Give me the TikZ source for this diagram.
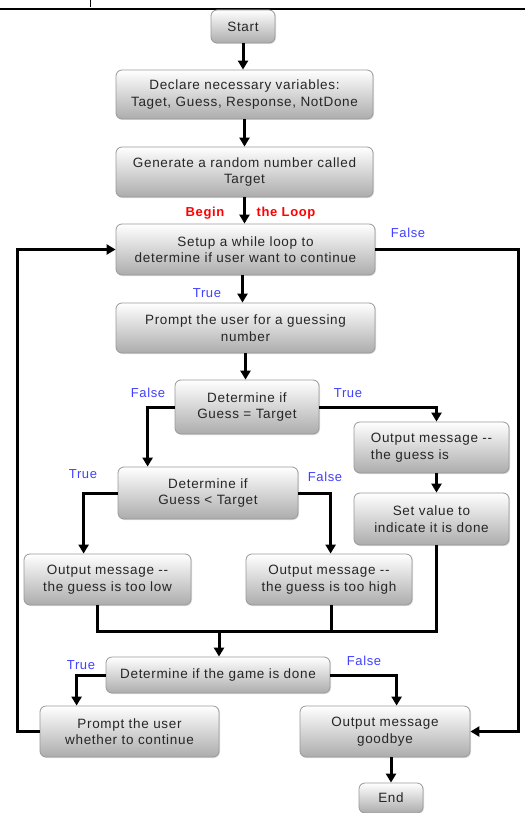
\documentclass[tikz,border=0pt]{standalone}
\usepackage{fontspec}
\setmainfont{Liberation Sans}[LetterSpace=5]
\usetikzlibrary{calc,arrows.meta,shadows}
\tikzset{
  box/.style={draw=gray!80, rounded corners=6pt, top color=white, bottom color=gray!65,
    inner sep=0pt, align=center, font=\fontsize{13.5}{16.5}\selectfont, text=black!85,
    line width=0.8pt, drop shadow={shadow xshift=1pt, shadow yshift=-1pt, opacity=0.25}},
  arr/.style={line width=3pt, -{Triangle[length=9pt,width=10pt]}},
  ln/.style={line width=3pt},
  lab/.style={text=blue!75!white, font=\fontsize{13}{15}\selectfont, inner sep=0pt},
  redlab/.style={text=red, font=\bfseries\fontsize{13}{15}\selectfont, inner sep=0pt},
}
\begin{document}
\begin{tikzpicture}[x=1pt,y=-1pt]
\useasboundingbox (0,0) rectangle (525,813);
\fill[white] (0,0) rectangle (525,813);
% top rule of the page
\draw[line width=2pt] (0,9) -- (525,9);
\draw[line width=1pt] (90,0) -- (90,7);

% boxes
\node[box, minimum width=64pt, minimum height=33pt] (start) at (243,26.5) {Start};
\node[box, minimum width=257pt, minimum height=49pt] (declare) at (244.5,94.5) {Declare necessary variables:\\Taget, Guess, Response, NotDone};
\node[box, minimum width=257pt, minimum height=50pt] (generate) at (244.5,172) {Generate a random number called\\Target};
\node[box, minimum width=259pt, minimum height=51pt] (setup) at (245.5,249.5) {Setup a while loop to\\determine if user want to continue};
\node[box, minimum width=259pt, minimum height=50pt] (prompt) at (245.5,328) {Prompt the user for a guessing\\number};
\node[box, minimum width=144pt, minimum height=54pt] (det1) at (247,407) {Determine if\\Guess = Target};
\node[box, minimum width=155pt, minimum height=51pt, align=left] (outg) at (431.5,447.5) {Output message -{}-\\the guess is};
\node[box, minimum width=155pt, minimum height=52pt] (setv) at (431.5,519) {Set value to\\indicate it is done};
\node[box, minimum width=180pt, minimum height=52pt] (det2) at (208,493) {Determine if\\Guess < Target};
\node[box, minimum width=167pt, minimum height=51pt] (low) at (107.5,579.5) {Output message -{}-\\the guess is too low};
\node[box, minimum width=166pt, minimum height=51pt] (high) at (329,579.5) {Output message -{}-\\the guess is too high};
\node[box, minimum width=224pt, minimum height=36pt] (game) at (218,675) {Determine if the game is done};
\node[box, minimum width=179pt, minimum height=51pt] (cont) at (129.5,731.5) {Prompt the user\\whether to continue};
\node[box, minimum width=170pt, minimum height=51pt] (bye) at (385,731.5) {Output message\\goodbye};
\node[box, minimum width=64pt, minimum height=30pt] (end) at (391,798) {End};

% labels
\node[redlab] (lbegin) at (205,213) {Begin};
\node[redlab] (lloop) at (286,213) {the Loop};
\node[lab] (f1) at (408,233) {False};
\node[lab] (t1) at (207,293) {True};
\node[lab] (f2) at (148,393) {False};
\node[lab] (t2) at (348,393) {True};
\node[lab] (t3) at (83,474) {True};
\node[lab] (f3) at (325,477) {False};
\node[lab] (t4) at (81,665) {True};
\node[lab] (f4) at (364,661) {False};

% helper coordinates
\coordinate (lft) at (17,250);
\coordinate (rgt) at (518,250);
\coordinate (m) at (219,631);
\coordinate (og) at ($(outg.north)+(5,0)$);
\coordinate (ogs) at ($(outg.south)+(5,0)$);
\coordinate (sv) at ($(setv.south)+(5,0)$);
\coordinate (lw) at ($(low.south west)+(74,0)$);
\coordinate (hs) at ($(high.south)+(2,0)$);

% connectors
\draw[arr] (start.south) -- (start.south |- declare.north);
\draw[arr] (declare.south) -- (generate.north);
\draw[arr] (generate.south) -- (generate.south |- setup.north);
\draw[arr] ($(setup.south)+(-3,0)$) -- ($(prompt.north)+(-3,0)$);
\draw[arr] (prompt.south) -- (prompt.south |- det1.north);
\draw[arr] (det1.west) -| ($(det2.north west)+(30,0)$);
\draw[arr] (det1.east) -| (og);
\draw[arr] (ogs) -- (ogs |- setv.north);
\draw[arr] (det2.west) -| ($(low.north west)+(60,0)$);
\draw[arr] (det2.east) -| ($(high.north west)+(85,0)$);
\draw[ln] (lw) |- (sv |- m) -- (sv);
\draw[ln] (hs) -- (hs |- m);
\draw[arr] (m) -- (m |- game.north);
\draw[arr] (game.west) -| ($(cont.north west)+(37,0)$);
\draw[arr] (game.east) -| ($(bye.north west)+(97,0)$);
\draw[arr] (cont.west) -| (lft |- setup.west) -- (setup.west);
\draw[arr] (setup.east) -| (rgt |- bye.east) -- (bye.east);
\draw[arr] (end.north |- bye.south) -- (end.north);
\end{tikzpicture}
\end{document}
